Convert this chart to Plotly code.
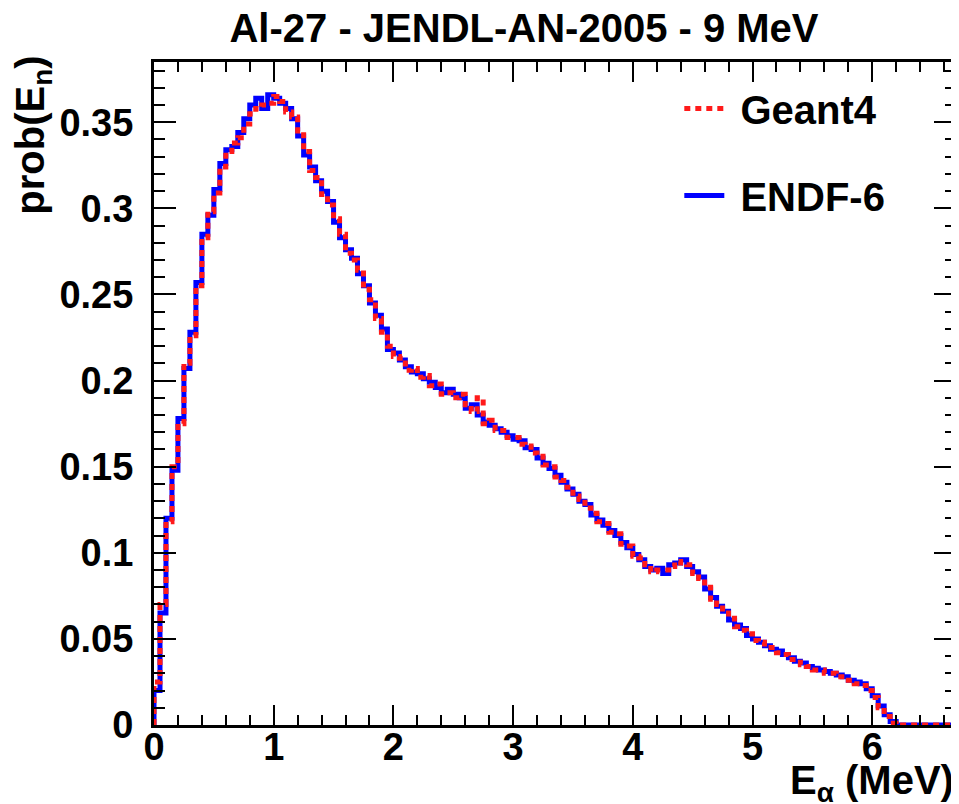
import numpy as np
import plotly.graph_objects as go

# ---- data ----
BIN_WIDTH = 0.05  # MeV
E_MAX = 6.70

endf6 = [
    0.020, 0.065, 0.120, 0.148, 0.178, 0.207, 0.228, 0.257, 0.285, 0.296,
    0.311, 0.326, 0.334, 0.336, 0.344, 0.352, 0.360, 0.364, 0.358, 0.366,
    0.364, 0.361, 0.358, 0.352, 0.342, 0.331, 0.324, 0.316, 0.310, 0.304,
    0.292, 0.283, 0.276, 0.271, 0.262, 0.255, 0.245, 0.238, 0.230, 0.218,
    0.216, 0.212, 0.208, 0.205, 0.204, 0.201, 0.199, 0.196, 0.193, 0.195,
    0.192, 0.190, 0.184, 0.186, 0.180, 0.176, 0.174, 0.172, 0.170, 0.168,
    0.166, 0.165, 0.161, 0.160, 0.155, 0.152, 0.149, 0.145, 0.141, 0.137,
    0.134, 0.130, 0.128, 0.122, 0.119, 0.116, 0.113, 0.110, 0.106, 0.103,
    0.099, 0.096, 0.092, 0.090, 0.091, 0.088, 0.093, 0.094, 0.096, 0.092,
    0.089, 0.086, 0.079, 0.074, 0.069, 0.066, 0.061, 0.058, 0.056, 0.052,
    0.050, 0.048, 0.046, 0.044, 0.043, 0.041, 0.039, 0.037, 0.036, 0.034,
    0.033, 0.032, 0.031, 0.030, 0.029, 0.028, 0.026, 0.025, 0.024, 0.021,
    0.017, 0.011, 0.006, 0.002, 0.000, 0.000, 0.000, 0.000, 0.000, 0.000,
    0.000, 0.000, 0.000, 0.000,
]

geant4 = [
    0.025, 0.070, 0.118, 0.150, 0.175, 0.210, 0.226, 0.255, 0.283, 0.298,
    0.309, 0.324, 0.333, 0.338, 0.341, 0.349, 0.355, 0.358, 0.360, 0.361,
    0.365, 0.362, 0.356, 0.353, 0.345, 0.333, 0.322, 0.318, 0.308, 0.302,
    0.294, 0.285, 0.274, 0.270, 0.264, 0.253, 0.247, 0.236, 0.228, 0.220,
    0.214, 0.213, 0.206, 0.207, 0.202, 0.203, 0.197, 0.198, 0.192, 0.193,
    0.190, 0.192, 0.186, 0.182, 0.190, 0.175, 0.177, 0.171, 0.171, 0.167,
    0.167, 0.163, 0.162, 0.158, 0.156, 0.151, 0.150, 0.144, 0.142, 0.138,
    0.133, 0.131, 0.126, 0.123, 0.118, 0.117, 0.112, 0.111, 0.105, 0.104,
    0.098, 0.097, 0.093, 0.089, 0.090, 0.090, 0.092, 0.095, 0.094, 0.093,
    0.088, 0.085, 0.080, 0.073, 0.070, 0.065, 0.062, 0.057, 0.055, 0.053,
    0.049, 0.048, 0.045, 0.045, 0.042, 0.041, 0.038, 0.038, 0.035, 0.034,
    0.032, 0.032, 0.030, 0.030, 0.028, 0.028, 0.026, 0.024, 0.023, 0.020,
    0.016, 0.010, 0.005, 0.001, 0.000, 0.000, 0.000, 0.000, 0.000, 0.000,
    0.000, 0.000, 0.000, 0.000,
]

x_ticks = [0, 1, 2, 3, 4, 5, 6]
y_ticks = [0, 0.05, 0.1, 0.15, 0.2, 0.25, 0.3, 0.35]
y_tick_labels = ["0", "0.05", "0.1", "0.15", "0.2", "0.25", "0.3", "0.35"]


def hist_steps(values):
    edges = np.round(np.arange(len(values) + 1) * BIN_WIDTH, 4)
    xs = [0.0] + list(edges[:-1]) + [edges[-1]]
    ys = [0.0] + list(values) + [values[-1]]
    return xs, ys


FONT = "Liberation Sans, Arial, Helvetica, sans-serif"

fig = go.Figure()
xe, ye = hist_steps(endf6)
fig.add_trace(go.Scatter(
    x=xe, y=ye, mode="lines", name="&nbsp;ENDF-6", line_shape="hv",
    line=dict(color="#0000ff", width=5), legendrank=2, legendgroup="b",
))
xg, yg = hist_steps(geant4)
fig.add_trace(go.Scatter(
    x=xg, y=yg, mode="lines", name="&nbsp;Geant4", line_shape="hv",
    line=dict(color="#ff1a1a", width=5, dash="6px,5px"), legendrank=1, legendgroup="a",
))

# page body has an 8px margin, so the figure is sized to fit the 959x804 window
fig.update_layout(
    width=951, height=796,
    margin=dict(l=146, r=3, t=54, b=79, autoexpand=False),
    paper_bgcolor="white", plot_bgcolor="white",
    font=dict(family=FONT, color="black", size=36, weight="bold"),
    title=dict(
        text="Al-27 - JENDL-AN-2005 - 9 MeV",
        x=0.5426, xanchor="center", y=0.975, yanchor="middle",
        font=dict(family=FONT, size=40, weight="bold", color="black"),
    ),
    showlegend=True,
    legend=dict(
        x=0.655, xanchor="left", y=0.979, yanchor="top",
        bgcolor="rgba(0,0,0,0)", borderwidth=0,
        font=dict(family=FONT, size=40, weight="bold", color="black"),
        tracegroupgap=32, itemwidth=40,
    ),
    xaxis=dict(
        range=[0, E_MAX], showgrid=False, zeroline=False, automargin=False,
        showline=True, linecolor="black", linewidth=3, mirror="allticks",
        ticks="inside", ticklen=20, tickwidth=2, tickcolor="black",
        tickvals=x_ticks, ticktext=[str(v) for v in x_ticks],
        tickfont=dict(family=FONT, size=38, weight="bold", color="black"),
        minor=dict(ticks="inside", ticklen=10, tickwidth=2, tickcolor="black", dtick=0.2, tick0=0, showgrid=False),
        ticklabelstandoff=-14,
    ),
    yaxis=dict(
        range=[0, 0.385], showgrid=False, zeroline=False, automargin=False,
        showline=True, linecolor="black", linewidth=3, mirror="allticks",
        ticks="inside", ticklen=22, tickwidth=2, tickcolor="black",
        tickvals=y_ticks, ticktext=y_tick_labels,
        tickfont=dict(family=FONT, size=38, weight="bold", color="black"),
        minor=dict(ticks="inside", ticklen=11, tickwidth=2, tickcolor="black", dtick=0.01, tick0=0, showgrid=False),
        ticklabelstandoff=10,
    ),
    annotations=[
        dict(text="prob(E<sub>n</sub>)", textangle=-90, xref="paper", yref="paper",
             x=-0.152, y=1.012, xanchor="center", yanchor="top", showarrow=False,
             font=dict(family=FONT, size=40, weight="bold", color="black")),
        dict(text="E<sub>α</sub> (MeV)", xref="paper", yref="paper",
             x=1.0, y=-0.088, xanchor="right", yanchor="middle", showarrow=False,
             font=dict(family=FONT, size=40, weight="bold", color="black")),
    ],
)

fig.write_html("out.html")
